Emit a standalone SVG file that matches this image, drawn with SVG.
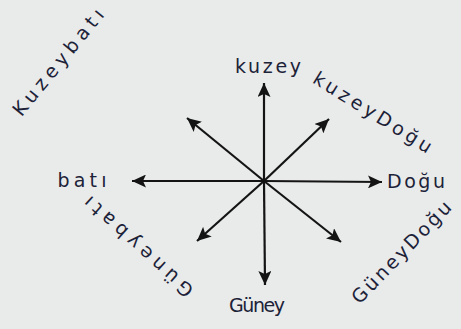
<svg xmlns="http://www.w3.org/2000/svg" width="461" height="329" viewBox="0 0 461 329">
<style>
.lbl{font-family:"DejaVu Sans","Liberation Sans",sans-serif;font-size:19px;fill:#1c2238;}
.arr{stroke:#141414;stroke-width:2.2;fill:none;marker-end:url(#ah);}
</style>
<defs>
<marker id="ah" markerUnits="userSpaceOnUse" markerWidth="15" markerHeight="13" refX="14" refY="6.5" orient="auto">
<path d="M0,0 L14,6.5 L0,13 L3,6.5 z" fill="#141414"/>
</marker>
</defs>
<rect width="461" height="329" fill="#e9eaea"/>
<g id="connectors">
<line class="arr" x1="264" y1="181" x2="264" y2="83"/>
<line class="arr" x1="264" y1="181" x2="265" y2="285"/>
<line class="arr" x1="264" y1="181" x2="132" y2="181"/>
<line class="arr" x1="264" y1="181" x2="382" y2="182"/>
<line class="arr" x1="264" y1="181" x2="329" y2="119"/>
<line class="arr" x1="264" y1="181" x2="187" y2="118"/>
<line class="arr" x1="264" y1="181" x2="197" y2="241"/>
<line class="arr" x1="264" y1="181" x2="341" y2="242"/>
</g>
<g id="kuzey"><text class="lbl" x="268" y="73" text-anchor="middle" textLength="66" lengthAdjust="spacing">kuzey</text></g>
<g id="guney"><text class="lbl" x="257" y="312" text-anchor="middle" textLength="56" lengthAdjust="spacing">Güney</text></g>
<g id="bati"><text class="lbl" x="82" y="187" text-anchor="middle" textLength="49" lengthAdjust="spacing">batı</text></g>
<g id="dogu"><text class="lbl" x="416" y="188" text-anchor="middle" textLength="58" lengthAdjust="spacing">Doğu</text></g>
<g id="kuzeybati"><text class="lbl" transform="translate(58,62) rotate(-50.7)" x="0" y="0" dominant-baseline="central" text-anchor="middle" textLength="132" lengthAdjust="spacing">Kuzeybatı</text></g>
<g id="kuzeydogu"><text class="lbl" transform="translate(373,112) rotate(31.8)" x="0" y="0" dominant-baseline="central" text-anchor="middle" textLength="136" lengthAdjust="spacing">kuzeyDoğu</text></g>
<g id="guneydogu"><text class="lbl" transform="translate(401,252) rotate(-46)" x="0" y="0" dominant-baseline="central" text-anchor="middle" textLength="134" lengthAdjust="spacing">GüneyDoğu</text></g>
<g id="guneybati"><text class="lbl" transform="translate(138,247) rotate(222)" x="0" y="0" dominant-baseline="central" text-anchor="middle" textLength="140" lengthAdjust="spacing">Güneybatı</text></g>
</svg>
